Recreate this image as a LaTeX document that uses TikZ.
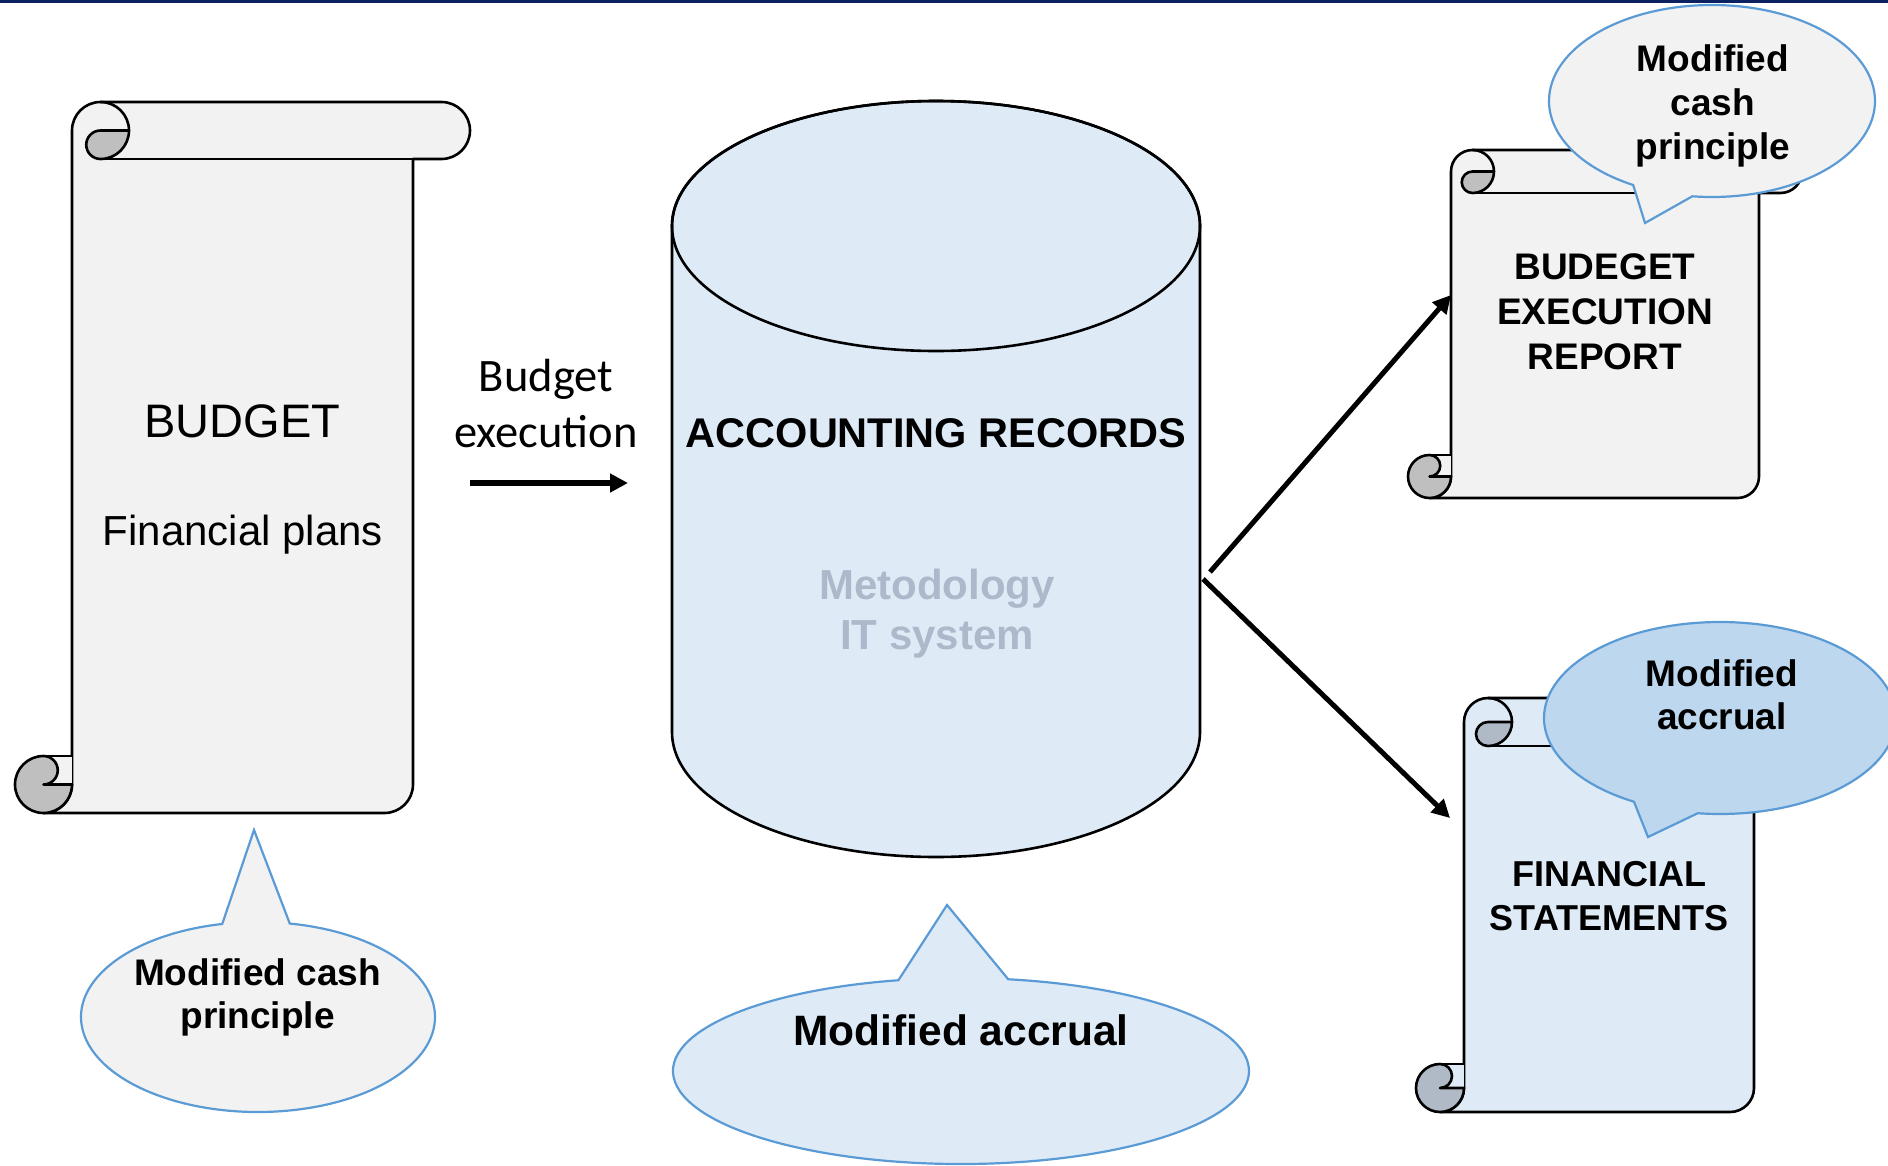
\documentclass[tikz,border=0pt]{standalone}
\usepackage{fontspec}
\setmainfont{Liberation Sans}
\newfontfamily\execfont{Carlito}
\usetikzlibrary{shapes.geometric,shapes.callouts,arrows.meta,calc}
\definecolor{mynavy}{RGB}{11,33,97}
\definecolor{mypaper}{RGB}{242,242,242}
\definecolor{mycurl}{RGB}{191,191,191}
\definecolor{mybluepale}{RGB}{222,235,247}
\definecolor{mybluecurl}{RGB}{176,186,198}
\definecolor{mybubble}{RGB}{189,215,238}
\definecolor{mybubbleline}{RGB}{91,155,213}
\definecolor{myghost}{RGB}{173,185,202}
\tikzset{
  scrolline/.style={draw=black,line width=2.6pt,line join=round},
  cylline/.style={draw=black,line width=2.6pt},
  bubble/.style={ellipse callout,draw=mybubbleline,line width=2.2pt,inner sep=0pt,
    callout pointer arc=22},
  flow/.style={-{Triangle[length=18pt,width=18pt]},line width=5.5pt},
  plain/.style={font=\fontsize{#1}{#1}\selectfont},
  bold/.style 2 args={font=\bfseries\fontsize{#1}{#2}\selectfont,align=center},
}
% scroll: left, top, right, bottom of body, roll radius, paper, curl
\newcommand{\scrollshape}[7]{%
  \draw[scrolline,fill=#6] ({#1},{-(#2+#5)}) -- ({#1},{-(#4-#5)})
    arc[start angle=0,end angle=-90,radius=#5] -- ({#3-#5},{-#4})
    arc[start angle=-90,end angle=0,radius=#5] -- ({#3},{-(#2+2*#5)})
    -- ({#3+#5},{-(#2+2*#5)}) arc[start angle=-90,end angle=90,radius=#5]
    -- ({#1+#5},{-#2}) arc[start angle=90,end angle=180,radius=#5] -- cycle;
  \fill[#6] ({#1-#5},{-(#4-2*#5)}) rectangle ({#1},{-(#4-#5)});
  \draw[scrolline] ({#1-#5},{-(#4-2*#5)}) -- ({#1},{-(#4-2*#5)});
  \draw[scrolline,fill=#7] ({#1-#5},{-(#4-#5)}) -- ({#1},{-(#4-#5)})
    arc[start angle=0,end angle=-270,radius=#5]
    arc[start angle=90,end angle=-90,radius=#5/2] -- cycle;
  \draw[scrolline,fill=#7] ({#1+#5},{-(#2+#5)}) -- ({#1+2*#5},{-(#2+#5)})
    arc[start angle=0,end angle=-90,radius=#5]
    arc[start angle=-90,end angle=-270,radius=#5/2] -- cycle;
  \draw[scrolline] ({#1+#5},{-#2}) arc[start angle=90,end angle=0,radius=#5];
  \draw[scrolline] ({#1+#5},{-(#2+2*#5)}) -- ({#3},{-(#2+2*#5)});
}
\begin{document}
\begin{tikzpicture}[x=1pt,y=1pt]
  \useasboundingbox (0,0) rectangle (1888,-1165);
  \clip (0,0) rectangle (1888,-1165);
  \fill[white] (0,0) rectangle (1888,-1165);
  \fill[mynavy] (0,0) rectangle (1888,-2.5);

  % budget
  \scrollshape{72}{102}{413}{813}{28.5}{mypaper}{mycurl}
  \node[plain=47,anchor=base] (budget) at (242.5,-437) {BUDGET};
  \node[plain=42,anchor=base] (plans) at (243,-545) {Financial plans};
  \node[bubble,fill=mypaper,minimum width=354pt,minimum height=190pt,
    callout absolute pointer={(254,-830)}] (cashbub) at (258,-1017) {};
  \node[bold={37}{43}] (cashtxt) at (257.5,-997) {Modified cash\\principle};

  % execution arrow
  \node[font=\execfont\fontsize{46.5}{56}\selectfont,align=center] (exec) at (546,-404) {Budget\\execution};
  \coordinate (execfrom) at (470,-483);
  \coordinate (execto) at (628,-483);
  \draw[flow] (execfrom) -- (execto);

  % accounting records
  \draw[cylline,fill=mybluepale] (672,-226) -- (672,-732)
    arc[start angle=180,end angle=360,x radius=264,y radius=125] -- (1200,-226)
    arc[start angle=0,end angle=180,x radius=264,y radius=125] -- cycle;
  \draw[cylline] (936,-226) ellipse[x radius=264,y radius=125];
  \node[bold={41.5}{50},anchor=base] (acc) at (936,-447) {ACCOUNTING RECORDS};
  \node[bold={42}{50},text=myghost] (method) at (937,-614) {Metodology\\IT system};
  \node[bubble,fill=mybluepale,minimum width=576pt,minimum height=186pt,
    callout absolute pointer={(947,-905)}] (accbub) at (961,-1071) {};
  \node[bold={42.5}{50},anchor=base] (accrualtxt) at (961,-1045) {Modified accrual};

  % report
  \scrollshape{1451}{150}{1759}{498}{21.5}{mypaper}{mycurl}
  \node[bold={37}{45}] (report) at (1605,-312) {BUDEGET\\EXECUTION\\REPORT};
  \node[bubble,fill=mypaper,minimum width=326pt,minimum height=192pt,
    callout absolute pointer={(1645,-223)}] (repbub) at (1712,-101) {};
  \node[bold={37}{44}] (reptxt) at (1713,-105.5) {Modified\\cash\\principle};

  % financial statements
  \scrollshape{1464}{698}{1754}{1112}{24}{mybluepale}{mybluecurl}
  \node[bold={36}{44.5}] (fin) at (1609,-896) {FINANCIAL\\STATEMENTS};
  \node[bubble,fill=mybubble,minimum width=352pt,minimum height=192pt,
    callout absolute pointer={(1648,-837)}] (finbub) at (1720,-718) {};
  \node[bold={37}{43.5}] (fintxt) at (1722,-695) {Modified\\accrual};

  % outputs
  \coordinate (accout1) at (1210,-572);
  \coordinate (accout2) at (1203,-579);
  \coordinate (repin) at (1451,-295);
  \coordinate (finin) at (1450,-818);
  \draw[flow,line width=5pt] (accout1) -- (repin);
  \draw[flow,line width=5pt] (accout2) -- (finin);
\end{tikzpicture}
\end{document}
